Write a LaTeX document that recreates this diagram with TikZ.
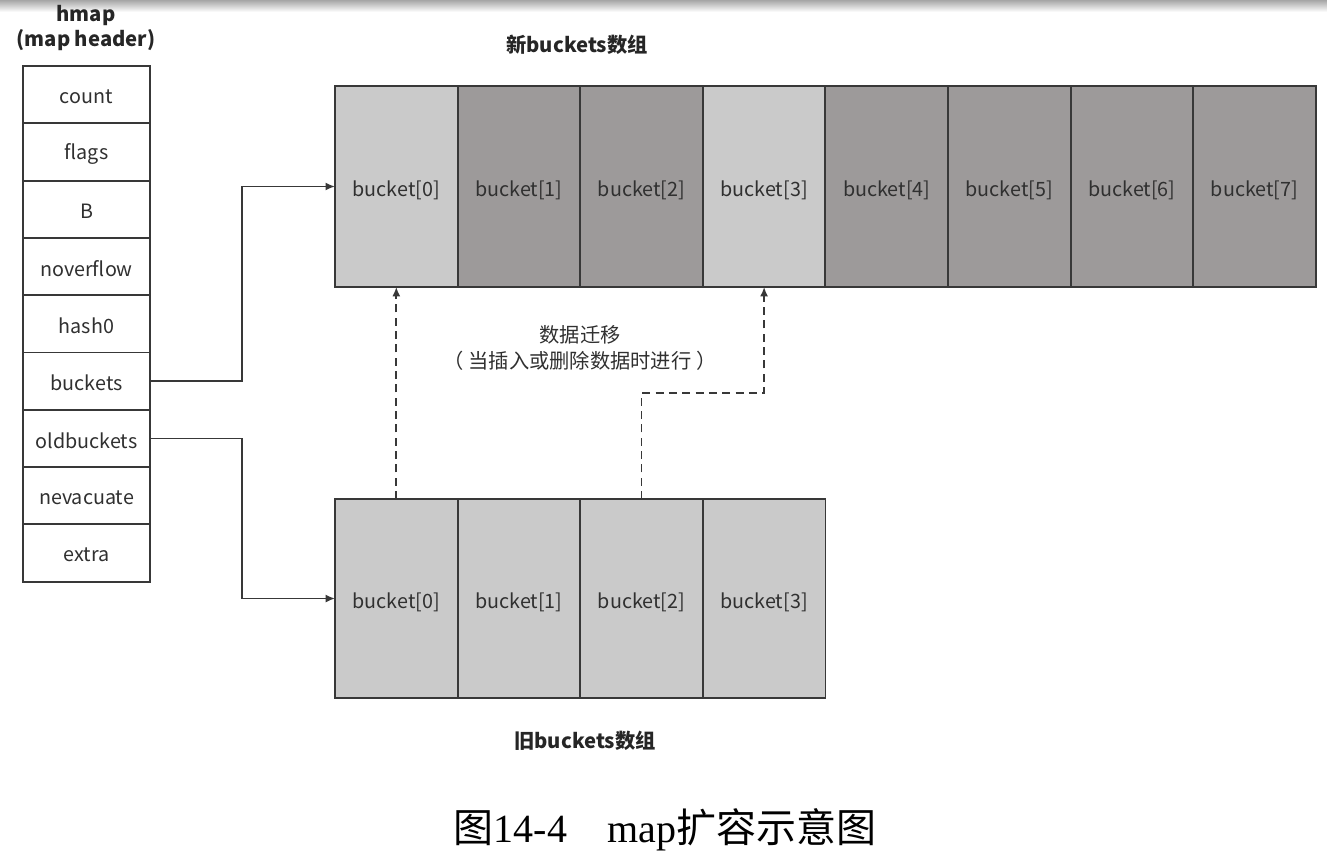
\documentclass[tikz,border=0pt]{standalone}
\usepackage{fontspec}
\usetikzlibrary{arrows.meta}
\newfontfamily\cjk{Noto Sans CJK SC}
\newfontfamily\capserif{Liberation Serif}
\definecolor{lightb}{HTML}{CACACA}
\definecolor{darkb}{HTML}{9D9A9A}
\definecolor{strokec}{HTML}{383838}
\definecolor{textc}{HTML}{303030}
\newcommand{\lowtxt}[2]{\raisebox{-#1}[\height][\depth]{#2}}
\begin{document}
\begin{tikzpicture}[x=0.75pt,y=-0.75pt,
  cell/.style={draw=strokec,line width=1.4pt,inner sep=0pt,outer sep=0pt,
    font=\cjk\fontsize{14.8}{17}\selectfont,text=textc},
  hcell/.style={cell,fill=white,minimum width=95.25pt,minimum height=43pt},
  bcell/.style={cell,minimum width=92pt,minimum height=150.75pt},
  ocell/.style={cell,fill=lightb,minimum width=92pt,minimum height=149.25pt},
  title/.style={font=\cjk\bfseries\fontsize{15.2}{19}\selectfont,text=black!85,align=center},
  conn/.style={draw=strokec,line width=1.2pt,-{Latex[length=7pt,width=6pt]}},
  dconn/.style={conn,line width=1.3pt,dash pattern=on 6pt off 4pt},
  lbl/.style={font=\cjk\fontsize{15.2}{19.5}\selectfont,text=textc,align=center}
]
\useasboundingbox (0,0) rectangle (1327,853);
\fill[white] (0,0) rectangle (1327,853);
\shade[top color=black!35,bottom color=white] (0,0) rectangle (1327,12);

% header
\node[title] (hmaptitle) at (86,28) {hmap\\(map header)};
\foreach \n/\t [count=\i from 0] in {count/count,flags/flags,B/B,noverflow/noverflow,hash0/hash0,buckets/buckets,oldbuckets/oldbuckets,nevacuate/nevacuate,extra/extra}{
  \node[hcell] (\n) at (86.5,{66+57.3*(\i+0.5)}) {\lowtxt{1.5pt}{\t}};
}

% new buckets
\node[title] (newtitle) at (577,45) {新buckets数组};
\foreach \i/\c in {0/lightb,1/darkb,2/darkb,3/lightb,4/darkb,5/darkb,6/darkb,7/darkb}{
  \node[bcell,fill=\c] (nb\i) at ({335+122.6*(\i+0.5)},186.5) {\lowtxt{3pt}{bucket[\i]}};
}

% old buckets
\foreach \i in {0,1,2,3}{
  \node[ocell] (ob\i) at ({335+122.6*(\i+0.5)},598.5) {\lowtxt{3pt}{bucket[\i]}};
}
\node[title] (oldtitle) at (585,741) {旧buckets数组};

% connectors
\draw[conn] (buckets.east) -- ++(92,0) |- (nb0.west);
\draw[conn] (oldbuckets.east) -- ++(92,0) |- (ob0.west);
\draw[dconn] (ob0.north) -- (ob0.north |- nb0.south);
\draw[dconn] (ob2.north) -- ++(0,-106) -| (nb3.south);

\node[lbl] (migr) at (580,348) {数据迁移\\（ 当插入或删除数据时进行 ）};

% caption
\node[font=\fontsize{30}{34}\selectfont,text=black] (caption) at (665,830)
  {{\cjk 图}{\capserif 14-4}{\cjk 　}{\capserif map}{\cjk 扩容示意图}};
\end{tikzpicture}
\end{document}
